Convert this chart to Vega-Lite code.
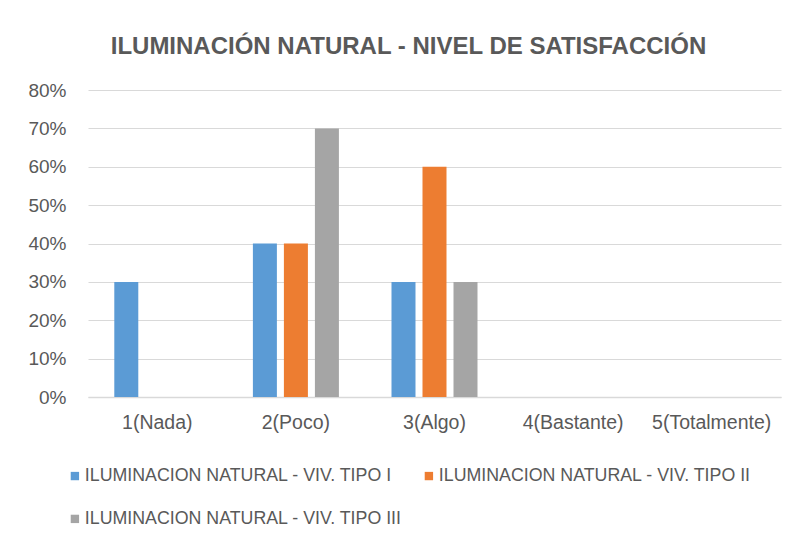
{
  "$schema": "https://vega.github.io/schema/vega-lite/v6.json",
  "width": 693,
  "height": 307,
  "autosize": {"type": "none"},
  "padding": {"left": 88, "top": 90, "right": 17, "bottom": 147},
  "background": "white",
  "title": {
    "text": "ILUMINACIÓN NATURAL - NIVEL DE SATISFACCIÓN",
    "font": "Liberation Sans",
    "fontSize": 24,
    "fontWeight": "bold",
    "color": "#595959",
    "anchor": "middle",
    "frame": "group",
    "offset": 22,
    "dx": -26
  },
  "data": {
    "values": [
      {"nivel": "1(Nada)", "serie": "ILUMINACION NATURAL - VIV. TIPO I", "valor": 0.3},
      {"nivel": "1(Nada)", "serie": "ILUMINACION NATURAL - VIV. TIPO II", "valor": 0},
      {"nivel": "1(Nada)", "serie": "ILUMINACION NATURAL - VIV. TIPO III", "valor": 0},
      {"nivel": "2(Poco)", "serie": "ILUMINACION NATURAL - VIV. TIPO I", "valor": 0.4},
      {"nivel": "2(Poco)", "serie": "ILUMINACION NATURAL - VIV. TIPO II", "valor": 0.4},
      {"nivel": "2(Poco)", "serie": "ILUMINACION NATURAL - VIV. TIPO III", "valor": 0.7},
      {"nivel": "3(Algo)", "serie": "ILUMINACION NATURAL - VIV. TIPO I", "valor": 0.3},
      {"nivel": "3(Algo)", "serie": "ILUMINACION NATURAL - VIV. TIPO II", "valor": 0.6},
      {"nivel": "3(Algo)", "serie": "ILUMINACION NATURAL - VIV. TIPO III", "valor": 0.3},
      {"nivel": "4(Bastante)", "serie": "ILUMINACION NATURAL - VIV. TIPO I", "valor": 0},
      {"nivel": "4(Bastante)", "serie": "ILUMINACION NATURAL - VIV. TIPO II", "valor": 0},
      {"nivel": "4(Bastante)", "serie": "ILUMINACION NATURAL - VIV. TIPO III", "valor": 0},
      {"nivel": "5(Totalmente)", "serie": "ILUMINACION NATURAL - VIV. TIPO I", "valor": 0},
      {"nivel": "5(Totalmente)", "serie": "ILUMINACION NATURAL - VIV. TIPO II", "valor": 0},
      {"nivel": "5(Totalmente)", "serie": "ILUMINACION NATURAL - VIV. TIPO III", "valor": 0}
    ]
  },
  "mark": {"type": "bar"},
  "encoding": {
    "x": {
      "field": "nivel",
      "type": "nominal",
      "sort": null,
      "scale": {"paddingInner": 0, "paddingOuter": 0},
      "axis": {
        "title": null,
        "labelAngle": 0,
        "labelFont": "Liberation Sans",
        "labelFontSize": 19.5,
        "labelColor": "#595959",
        "labelPadding": 16,
        "domainColor": "#D9D9D9",
        "domainWidth": 1.5,
        "ticks": false,
        "grid": false
      }
    },
    "xOffset": {
      "field": "serie",
      "type": "nominal",
      "sort": null,
      "scale": {"paddingInner": 0.226, "paddingOuter": 0.848}
    },
    "y": {
      "field": "valor",
      "type": "quantitative",
      "scale": {"domain": [0, 0.8], "nice": false},
      "axis": {
        "title": null,
        "values": [0, 0.1, 0.2, 0.3, 0.4, 0.5, 0.6, 0.7, 0.8],
        "format": ".0%",
        "labelFont": "Liberation Sans",
        "labelFontSize": 19,
        "labelColor": "#595959",
        "labelPadding": 22,
        "domain": false,
        "ticks": false,
        "gridColor": "#D9D9D9",
        "gridWidth": 1.2
      }
    },
    "color": {
      "field": "serie",
      "type": "nominal",
      "sort": null,
      "scale": {"range": ["#5B9BD5", "#ED7D31", "#A5A5A5"]},
      "legend": {
        "title": null,
        "orient": "none",
        "legendX": -22,
        "legendY": 377,
        "direction": "horizontal",
        "columns": 2,
        "columnPadding": 18,
        "rowPadding": 24,
        "symbolType": "square",
        "symbolSize": 70,
        "symbolStrokeWidth": 0,
        "labelFont": "Liberation Sans",
        "labelFontSize": 17.8,
        "labelColor": "#595959",
        "labelOffset": 1,
        "labelLimit": 400
      }
    }
  },
  "config": {
    "view": {"stroke": null}
  }
}
